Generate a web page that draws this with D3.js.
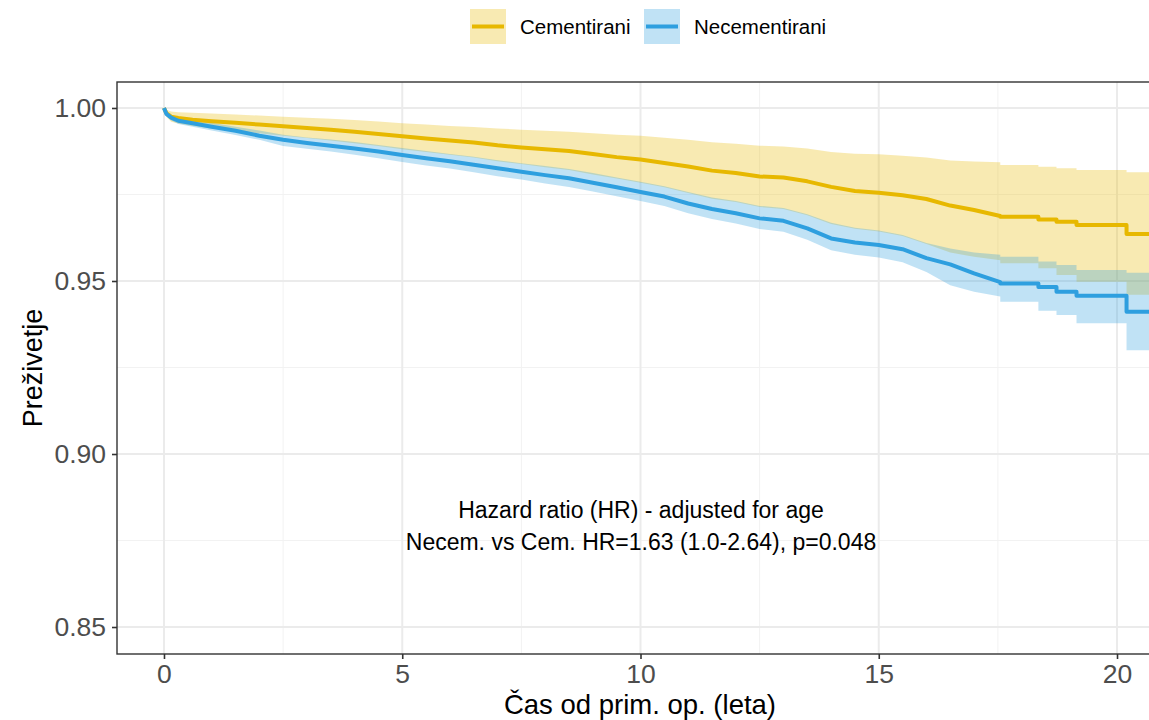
<!DOCTYPE html>
<html>
<head>
<meta charset="utf-8">
<script src="https://cdn.jsdelivr.net/npm/d3@7"></script>
<style>
  html, body { margin: 0; padding: 0; background: #fff; }
  svg { display: block; font-family: "Liberation Sans", Arial, Helvetica, sans-serif; }
</style>
</head>
<body>
<svg id="chart" width="1149" height="720"></svg>
<script>
// Kaplan–Meier survival estimates with 95% confidence bands.
// Early follow-up has many small events (drawn as a continuous decline);
// the sparse tail keeps its visible steps as repeated time points.
const times = [0, 0.05, 0.15, 0.3, 0.6, 1, 1.5, 2, 2.5, 3, 3.5, 4, 4.5, 5, 5.5, 6, 6.5, 7, 7.5, 8,
  8.5, 9, 9.5, 10, 10.5, 11, 11.5, 12, 12.5, 13, 13.5, 14, 14.5, 15, 15.5, 16, 16.5,
  17, 17.55, 17.55, 18.35, 18.35, 18.73, 18.73, 19.15, 19.15, 20.2, 20.2, 21.6];

const cemSurv = [1.0, 0.9985, 0.9975, 0.9971, 0.9966, 0.9962, 0.9957, 0.9952, 0.9947, 0.9942, 0.9937,
  0.9931, 0.9925, 0.9918, 0.9912, 0.9906, 0.9900, 0.9892, 0.9886, 0.9881, 0.9876, 0.9867, 0.9858,
  0.9851, 0.9841, 0.9831, 0.9819, 0.9812, 0.9802, 0.9799, 0.9788, 0.9772, 0.9760, 0.9755, 0.9748,
  0.9737, 0.9718,
  0.9705, 0.9688, 0.9686, 0.9686, 0.9678, 0.9678, 0.9671, 0.9671, 0.9662, 0.9662, 0.9636, 0.9636];
const cemUpper = [1.0, 0.9995, 0.9990, 0.9988, 0.9986, 0.9984, 0.9981, 0.9978, 0.9975, 0.9972, 0.9969,
  0.9965, 0.9961, 0.9956, 0.9952, 0.9948, 0.9945, 0.9941, 0.9937, 0.9934, 0.9931, 0.9927, 0.9923,
  0.9920, 0.9914, 0.9908, 0.9901, 0.9897, 0.9891, 0.9889, 0.9883, 0.9873, 0.9868, 0.9866, 0.9862,
  0.9857, 0.9848,
  0.9845, 0.9843, 0.9835, 0.9835, 0.9830, 0.9830, 0.9826, 0.9826, 0.9821, 0.9821, 0.9814, 0.9814];
const cemLower = [1.0, 0.9975, 0.9960, 0.9955, 0.9948, 0.9941, 0.9934, 0.9927, 0.9920, 0.9913, 0.9906,
  0.9898, 0.9890, 0.9881, 0.9873, 0.9865, 0.9857, 0.9846, 0.9838, 0.9829, 0.9821, 0.9808, 0.9796,
  0.9784, 0.9771, 0.9754, 0.9738, 0.9728, 0.9714, 0.9708, 0.9690, 0.9665, 0.9651, 0.9643, 0.9630,
  0.9607, 0.9582,
  0.9570, 0.9560, 0.9551, 0.9551, 0.9537, 0.9537, 0.9517, 0.9517, 0.9498, 0.9498, 0.9460, 0.9460];

const necSurv = [1.0, 0.9983, 0.9972, 0.9963, 0.9956, 0.9946, 0.9934, 0.9920, 0.9908, 0.9899, 0.9891,
  0.9883, 0.9874, 0.9864, 0.9855, 0.9846, 0.9836, 0.9826, 0.9816, 0.9806, 0.9797, 0.9784, 0.9771,
  0.9757, 0.9744, 0.9724, 0.9708, 0.9696, 0.9681, 0.9674, 0.9652, 0.9623, 0.9611, 0.9604, 0.9592,
  0.9566, 0.9548,
  0.9522, 0.9497, 0.9493, 0.9493, 0.9483, 0.9483, 0.9469, 0.9469, 0.9457, 0.9457, 0.9411, 0.9411];
const necUpper = [1.0, 0.9988, 0.9980, 0.9972, 0.9966, 0.9957, 0.9946, 0.9935, 0.9923, 0.9915, 0.9909,
  0.9902, 0.9893, 0.9884, 0.9876, 0.9867, 0.9859, 0.9849, 0.9840, 0.9832, 0.9824, 0.9812, 0.9799,
  0.9787, 0.9774, 0.9757, 0.9741, 0.9731, 0.9717, 0.9711, 0.9693, 0.9668, 0.9654, 0.9646, 0.9633,
  0.9610, 0.9594,
  0.9582, 0.9576, 0.9570, 0.9570, 0.9556, 0.9556, 0.9546, 0.9546, 0.9532, 0.9532, 0.9524, 0.9524];
const necLower = [1.0, 0.9978, 0.9964, 0.9954, 0.9946, 0.9935, 0.9922, 0.9908, 0.9890, 0.9882, 0.9874,
  0.9865, 0.9855, 0.9844, 0.9834, 0.9825, 0.9814, 0.9803, 0.9793, 0.9782, 0.9772, 0.9759, 0.9745,
  0.9731, 0.9717, 0.9696, 0.9679, 0.9666, 0.9650, 0.9642, 0.9619, 0.9589, 0.9576, 0.9568, 0.9554,
  0.9526, 0.9488,
  0.9469, 0.9455, 0.9440, 0.9440, 0.9414, 0.9414, 0.9402, 0.9402, 0.9378, 0.9378, 0.9300, 0.9300];

const groupNames = ["Cementirani", "Necementirani"];
const groupColors = ["#E7B800", "#2E9FDF"];

const xTicks = [0, 5, 10, 15, 20];
const xMinorTicks = [2.5, 7.5, 12.5, 17.5];
const yTicks = [0.85, 0.90, 0.95, 1.00];
const yMinorTicks = [0.875, 0.925, 0.975];

const xTitle = "Čas od prim. op. (leta)";
const yTitle = "Preživetje";
const noteLines = ["Hazard ratio (HR) - adjusted for age",
                   "Necem. vs Cem. HR=1.63 (1.0-2.64), p=0.048"];

// layout
const panel = { left: 117, top: 82, right: 1163, bottom: 654 };
const svg = d3.select("#chart");

const x = d3.scaleLinear().domain([-0.986, 20.965]).range([panel.left, panel.right]);
const y = d3.scaleLinear().domain([0.84220, 1.00751]).range([panel.bottom, panel.top]);

svg.append("defs").append("clipPath").attr("id", "panelClip")
  .append("rect")
  .attr("x", panel.left).attr("y", panel.top)
  .attr("width", panel.right - panel.left).attr("height", panel.bottom - panel.top);

// grid
const grid = svg.append("g");
grid.selectAll(".minx").data(xMinorTicks).join("line")
  .attr("x1", d => x(d)).attr("x2", d => x(d))
  .attr("y1", panel.top).attr("y2", panel.bottom)
  .attr("stroke", "#F2F2F2").attr("stroke-width", 1);
grid.selectAll(".miny").data(yMinorTicks).join("line")
  .attr("y1", d => y(d)).attr("y2", d => y(d))
  .attr("x1", panel.left).attr("x2", panel.right)
  .attr("stroke", "#F2F2F2").attr("stroke-width", 1);
grid.selectAll(".majx").data(xTicks).join("line")
  .attr("x1", d => x(d)).attr("x2", d => x(d))
  .attr("y1", panel.top).attr("y2", panel.bottom)
  .attr("stroke", "#EBEBEB").attr("stroke-width", 2);
grid.selectAll(".majy").data(yTicks).join("line")
  .attr("y1", d => y(d)).attr("y2", d => y(d))
  .attr("x1", panel.left).attr("x2", panel.right)
  .attr("stroke", "#EBEBEB").attr("stroke-width", 2);

// series
const series = [
  { name: groupNames[0], color: groupColors[0], s: cemSurv, lo: cemLower, hi: cemUpper },
  { name: groupNames[1], color: groupColors[1], s: necSurv, lo: necLower, hi: necUpper }
];

const plot = svg.append("g").attr("clip-path", "url(#panelClip)");

const band = d3.area()
  .x(d => x(d.t)).y0(d => y(d.lo)).y1(d => y(d.hi))
  .curve(d3.curveLinear);
const line = d3.line()
  .x(d => x(d.t)).y(d => y(d.s))
  .curve(d3.curveLinear);

series.forEach(g => {
  const rows = times.map((t, i) => ({ t, s: g.s[i], lo: g.lo[i], hi: g.hi[i] }));
  plot.append("path").datum(rows)
    .attr("d", band).attr("fill", g.color).attr("fill-opacity", 0.3);
});
series.forEach(g => {
  const rows = times.map((t, i) => ({ t, s: g.s[i] }));
  plot.append("path").datum(rows)
    .attr("d", line).attr("fill", "none")
    .attr("stroke", g.color).attr("stroke-width", 4)
    .attr("stroke-linejoin", "round");
});

// panel border
svg.append("rect")
  .attr("x", panel.left).attr("y", panel.top)
  .attr("width", panel.right - panel.left).attr("height", panel.bottom - panel.top)
  .attr("fill", "none").attr("stroke", "#333333").attr("stroke-width", 1.4);

// axes
const xAxis = svg.append("g").attr("transform", `translate(0,${panel.bottom})`)
  .call(d3.axisBottom(x).tickValues(xTicks).tickFormat(d3.format("d")).tickSize(5).tickPadding(5));
const yAxis = svg.append("g").attr("transform", `translate(${panel.left},0)`)
  .call(d3.axisLeft(y).tickValues(yTicks).tickFormat(d3.format(".2f")).tickSize(5).tickPadding(6));
[xAxis, yAxis].forEach(a => {
  a.select(".domain").remove();
  a.selectAll(".tick line").attr("stroke", "#333333").attr("stroke-width", 1.6);
  a.selectAll(".tick text").attr("fill", "#4D4D4D")
    .style("font-size", "26.5px").style("font-family", "'Liberation Sans', Arial, sans-serif");
});

// axis titles
svg.append("text").attr("x", (panel.left + panel.right) / 2).attr("y", 714)
  .attr("text-anchor", "middle").attr("fill", "#000").style("font-size", "27.5px")
  .text(xTitle);
svg.append("text")
  .attr("transform", `translate(42,${(panel.top + panel.bottom) / 2}) rotate(-90)`)
  .attr("text-anchor", "middle").attr("fill", "#000").style("font-size", "27px")
  .text(yTitle);

// annotation
svg.append("g").selectAll("text").data(noteLines).join("text")
  .attr("x", 641).attr("y", (d, i) => 518 + i * 32)
  .attr("text-anchor", "middle").attr("fill", "#000").style("font-size", "23px")
  .text(d => d);

// legend
const legend = svg.append("g");
const legendX = [470, 644];
series.forEach((g, i) => {
  const lg = legend.append("g").attr("transform", `translate(${legendX[i]},9)`);
  lg.append("rect").attr("width", 36).attr("height", 35)
    .attr("fill", g.color).attr("fill-opacity", 0.3);
  lg.append("line").attr("x1", 2).attr("x2", 34).attr("y1", 17.5).attr("y2", 17.5)
    .attr("stroke", g.color).attr("stroke-width", 4);
  lg.append("text").attr("x", 50).attr("y", 25)
    .attr("fill", "#000").style("font-size", "20.5px").text(g.name);
});
</script>
</body>
</html>
